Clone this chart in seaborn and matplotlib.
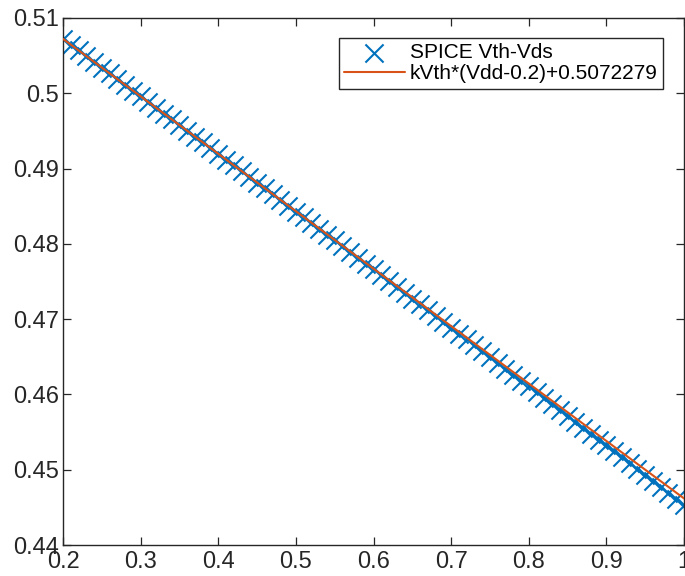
import numpy as np
import pandas as pd
import matplotlib
matplotlib.use("Agg")
import matplotlib.pyplot as plt
from matplotlib.ticker import FuncFormatter
import seaborn as sns

# Data
vdd = [round(0.2 + 0.01 * i, 2) for i in range(81)]
vth_spice = [
    0.50723, 0.50647, 0.50570, 0.50494, 0.50418, 0.50341, 0.50265, 0.50189, 0.50112, 0.50036,
    0.49960, 0.49883, 0.49807, 0.49731, 0.49654, 0.49578, 0.49501, 0.49425, 0.49348, 0.49272,
    0.49195, 0.49119, 0.49042, 0.48966, 0.48889, 0.48813, 0.48736, 0.48659, 0.48583, 0.48506,
    0.48429, 0.48352, 0.48275, 0.48199, 0.48122, 0.48045, 0.47968, 0.47891, 0.47814, 0.47737,
    0.47660, 0.47582, 0.47505, 0.47428, 0.47351, 0.47273, 0.47196, 0.47118, 0.47041, 0.46963,
    0.46886, 0.46808, 0.46730, 0.46653, 0.46575, 0.46497, 0.46419, 0.46341, 0.46263, 0.46185,
    0.46107, 0.46029, 0.45950, 0.45872, 0.45794, 0.45715, 0.45636, 0.45558, 0.45479, 0.45400,
    0.45322, 0.45243, 0.45164, 0.45085, 0.45005, 0.44926, 0.44847, 0.44767, 0.44688, 0.44608,
    0.44529,
]
kVth = -0.0763
offset = 0.5072279
fit_x = [0.2, 1.0]
fit_y = [kVth * (v - 0.2) + offset for v in fit_x]

x_ticks = [0.2, 0.3, 0.4, 0.5, 0.6, 0.7, 0.8, 0.9, 1.0]
y_ticks = [0.44, 0.45, 0.46, 0.47, 0.48, 0.49, 0.50, 0.51]

label_spice = "SPICE Vth-Vds"
label_fit = "kVth*(Vdd-0.2)+0.5072279"

sns.set_theme(style="ticks")
plt.rcParams['font.family'] = ['Liberation Sans', 'DejaVu Sans']

blue = "#0072BD"
orange = "#D95319"

fig = plt.figure(figsize=(6.85, 5.76), dpi=100)
ax = fig.add_axes([63/685, 1 - 545/576, (684 - 63)/685, (545 - 18)/576])

df = pd.DataFrame({"Vdd": vdd, "Vth": vth_spice})
dfit = pd.DataFrame({"Vdd": fit_x, "Vth": fit_y})

sns.scatterplot(data=df, x="Vdd", y="Vth", marker="x", s=170, color=blue,
                linewidth=1.5, ax=ax, label=label_spice, zorder=2)
sns.lineplot(data=dfit, x="Vdd", y="Vth", color=orange, linewidth=1.5,
             ax=ax, label=label_fit, zorder=3)

ax.set_xlim(0.2, 1.0)
ax.set_ylim(0.44, 0.51)
ax.set_xticks(x_ticks)
ax.set_yticks(y_ticks)
fmt = FuncFormatter(lambda v, p: "%g" % round(v, 4))
ax.xaxis.set_major_formatter(fmt)
ax.yaxis.set_major_formatter(fmt)
ax.set_xlabel("")
ax.set_ylabel("")

for s in ax.spines.values():
    s.set_visible(True)
    s.set_color("#262626")
    s.set_linewidth(1.0)
ax.tick_params(direction="in", top=True, right=True, length=6, width=0.9,
               color="#262626", labelsize=17, labelcolor="#262626", pad=3)
ax.tick_params(axis="x", pad=4)

leg = ax.legend(loc="upper right", bbox_to_anchor=(0.966, 0.962), borderaxespad=0,
                fontsize=15, frameon=True, fancybox=False, framealpha=1,
                edgecolor="#262626", handlelength=2.9, handletextpad=0.25,
                labelspacing=0.1, borderpad=0.25)
leg.get_frame().set_linewidth(1.0)
for t in leg.get_texts():
    t.set_color("black")

fig.savefig("out.png", dpi=100)
